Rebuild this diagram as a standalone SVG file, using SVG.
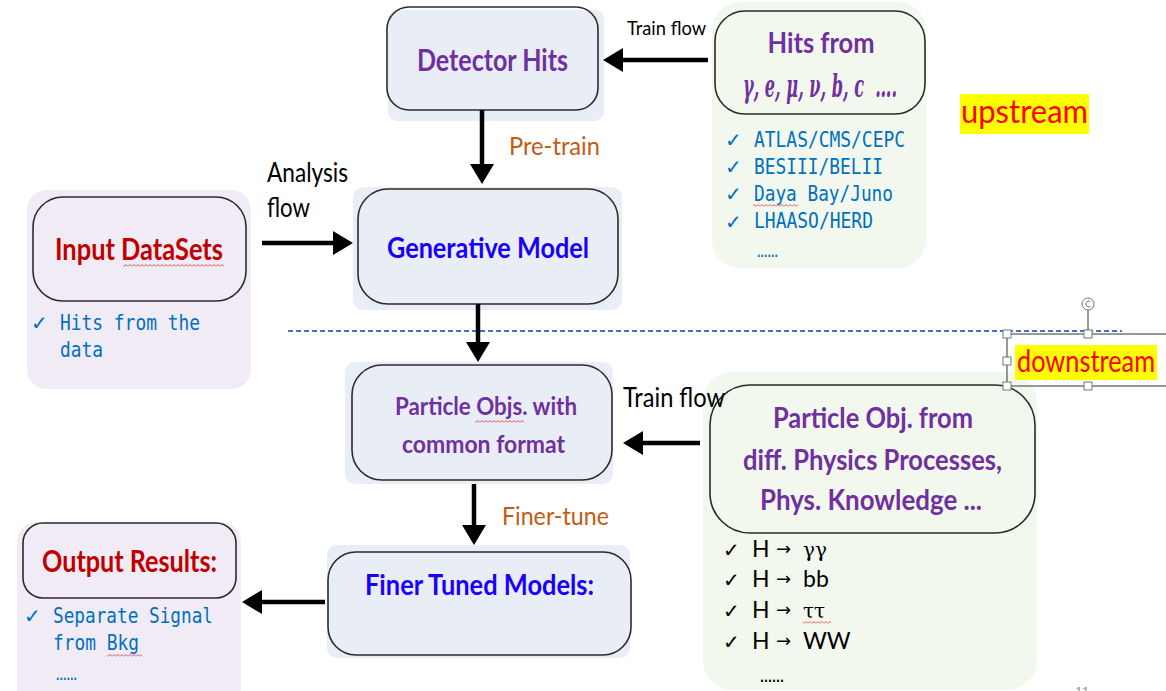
<svg xmlns="http://www.w3.org/2000/svg" width="1166" height="691" viewBox="0 0 1166 691">
<defs>
<style>
.bgb{fill:#e9edf5}
.bgg{fill:#f3f8ee}
.bgp{fill:#f0ebf4}
.frame{fill:none;stroke:#2b2b2b;stroke-width:1.6}
.h{font-family:Lato,"Open Sans","Liberation Sans",sans-serif;font-weight:700}
.r{font-family:Lato,"Open Sans","Liberation Sans",sans-serif;font-weight:400}
.purple{fill:#7030a0}
.dred{fill:#c00000}
.blue{fill:#1800ff}
.orange{fill:#c55a11}
.black{fill:#000}
.mono{font-family:"DejaVu Sans Mono","Liberation Mono",monospace;fill:#0070c0;font-size:22px}
.chk{font-family:"DejaVu Sans",sans-serif;font-size:20px;font-weight:700}
.conn{stroke:#000;stroke-width:4.5;fill:none}
.dash{stroke:#4472c4;stroke-width:1.8;stroke-dasharray:5 3;fill:none}
.sel{stroke:#777;stroke-width:1.5;fill:none}
.handle{fill:#fff;stroke:#777;stroke-width:1}
.hl{fill:#ffff00}
.redt{fill:#ff0000}
</style>
<marker id="ah" viewBox="0 0 20 24" markerWidth="20" markerHeight="24" refX="0" refY="12" orient="auto" markerUnits="userSpaceOnUse">
<path d="M0,0 L20,12 L0,24 z" fill="#000"/>
</marker>
<pattern id="wave" width="4" height="3" patternUnits="userSpaceOnUse">
<path d="M0,2.5 L2,0.5 L4,2.5" fill="none" stroke="#e23b3b" stroke-width="0.9"/>
</pattern>
</defs>
<rect width="1166" height="691" fill="#fff"/>

<line class="dash" x1="288" y1="331" x2="1122" y2="331"/>

<g id="detector-hits">
<rect class="bgb" x="388" y="10" width="216" height="111" rx="9"/>
<rect class="frame" x="387" y="7" width="211" height="103" rx="22"/>
<text class="h purple" x="492.5" y="71" font-size="31" text-anchor="middle" textLength="151" lengthAdjust="spacingAndGlyphs">Detector Hits</text>
</g>

<g id="hits-from">
<rect class="bgg" x="712" y="2" width="214" height="266" rx="28"/>
<rect class="frame" x="715" y="11" width="210" height="103" rx="30"/>
<text class="h purple" x="821" y="53" font-size="29" text-anchor="middle" textLength="107" lengthAdjust="spacingAndGlyphs">Hits from</text>
<text class="purple" x="743" y="97" font-size="31" font-family="'DejaVu Serif','Liberation Serif',serif" font-style="italic" font-weight="700" textLength="154" lengthAdjust="spacingAndGlyphs" style="white-space:pre">γ, e, μ, ν, b, c  ….</text>
<g fill="#0070c0">
<text class="chk" x="725" y="147">✓</text>
<text class="chk" x="725" y="174">✓</text>
<text class="chk" x="725" y="201">✓</text>
<text class="chk" x="725" y="229">✓</text>
</g>
<text class="mono" x="754" y="147" textLength="151" lengthAdjust="spacingAndGlyphs">ATLAS/CMS/CEPC</text>
<text class="mono" x="754" y="174" textLength="129" lengthAdjust="spacingAndGlyphs">BESIII/BELII</text>
<text class="mono" x="754" y="201" textLength="139" lengthAdjust="spacingAndGlyphs">Daya Bay/Juno</text>
<rect x="753" y="204" width="45" height="3" fill="url(#wave)"/>
<text class="mono" x="754" y="228" textLength="119" lengthAdjust="spacingAndGlyphs">LHAASO/HERD</text>
<text x="757" y="257" font-family="'DejaVu Sans',sans-serif" font-size="12" font-weight="700" fill="#0070c0" textLength="21" lengthAdjust="spacingAndGlyphs">......</text>
</g>

<g id="upstream">
<rect class="hl" x="960" y="94" width="129" height="40"/>
<text class="r redt" x="961" y="123" font-size="33" textLength="127" lengthAdjust="spacingAndGlyphs">upstream</text>
</g>

<g id="input-datasets">
<rect class="bgp" x="27" y="190" width="224" height="199" rx="20"/>
<rect class="frame" x="33" y="197" width="213" height="104" rx="30"/>
<text class="h dred" x="139" y="260" font-size="30" text-anchor="middle" textLength="168" lengthAdjust="spacingAndGlyphs">Input DataSets</text>
<rect x="123" y="264" width="101" height="3" fill="url(#wave)"/>
<text class="chk" x="31" y="330" fill="#0070c0">✓</text>
<text class="mono" x="60" y="330" textLength="140" lengthAdjust="spacingAndGlyphs">Hits from the</text>
<text class="mono" x="60" y="357" textLength="43" lengthAdjust="spacingAndGlyphs">data</text>
</g>

<g id="generative-model">
<rect class="bgb" x="353" y="187" width="269" height="123" rx="10"/>
<rect class="frame" x="358" y="189" width="260" height="115" rx="30"/>
<text class="h blue" x="488" y="258" font-size="29" text-anchor="middle" textLength="202" lengthAdjust="spacingAndGlyphs">Generative Model</text>
</g>

<g id="particle-objs">
<rect class="bgb" x="345" y="362" width="268" height="122" rx="10"/>
<rect class="frame" x="352" y="365" width="260" height="115" rx="30"/>
<text class="h purple" x="486" y="415" font-size="24" text-anchor="middle" textLength="182" lengthAdjust="spacingAndGlyphs">Particle Objs. with</text>
<rect x="475" y="420" width="49" height="3" fill="url(#wave)"/>
<text class="h purple" x="483.5" y="453" font-size="24" text-anchor="middle" textLength="163" lengthAdjust="spacingAndGlyphs">common format</text>
</g>

<g id="particle-obj-from">
<rect class="bgg" x="703" y="372" width="334" height="318" rx="30"/>
<rect class="frame" x="710" y="385" width="325" height="148" rx="40"/>
<text class="h purple" x="873" y="428" font-size="28" text-anchor="middle" textLength="200" lengthAdjust="spacingAndGlyphs">Particle Obj. from</text>
<text class="h purple" x="872.5" y="470" font-size="28" text-anchor="middle" textLength="259" lengthAdjust="spacingAndGlyphs">diff. Physics Processes,</text>
<text class="h purple" x="871" y="510" font-size="28" text-anchor="middle" textLength="222" lengthAdjust="spacingAndGlyphs">Phys. Knowledge ...</text>
<g class="r black" font-size="23">
<text class="chk" x="723" y="557">✓</text>
<text x="752" y="557">H</text><text x="776" y="555" font-family="'DejaVu Sans',sans-serif" font-size="18">→</text><text x="803" y="557" font-family="'DejaVu Serif',serif" font-size="20">γγ</text>
<text class="chk" x="723" y="587">✓</text>
<text x="752" y="587">H</text><text x="776" y="585" font-family="'DejaVu Sans',sans-serif" font-size="18">→</text><text x="803" y="587">bb</text>
<text class="chk" x="723" y="618">✓</text>
<text x="752" y="618">H</text><text x="776" y="616" font-family="'DejaVu Sans',sans-serif" font-size="18">→</text><text x="803" y="618" font-family="'DejaVu Serif',serif" font-size="20">ττ</text>
<text class="chk" x="723" y="649">✓</text>
<text x="752" y="649">H</text><text x="776" y="647" font-family="'DejaVu Sans',sans-serif" font-size="18">→</text><text x="803" y="649">WW</text>
</g>
<rect x="803" y="621" width="28" height="3" fill="url(#wave)"/>
<text x="760" y="682" font-family="'DejaVu Sans',sans-serif" font-size="12" font-weight="700" fill="#000" textLength="24" lengthAdjust="spacingAndGlyphs">......</text>
</g>

<g id="downstream">
<rect class="hl" x="1015" y="345" width="142" height="35"/>
<text class="r redt" x="1017" y="372" font-size="30" textLength="138" lengthAdjust="spacingAndGlyphs">downstream</text>
<path class="sel" d="M1007,334 H1166 M1007,386 H1166 M1007,334 V386 M1088,310 V334"/>
<circle cx="1088" cy="304" r="6" fill="#fff" stroke="#777" stroke-width="1"/>
<path d="M1090.5,301.5 A3,3 0 1 0 1090.5,306.5" fill="none" stroke="#777" stroke-width="1"/>
<rect class="handle" x="1003" y="330" width="8" height="8"/>
<rect class="handle" x="1003" y="357" width="8" height="8"/>
<rect class="handle" x="1003" y="382" width="8" height="8"/>
<rect class="handle" x="1084" y="330" width="8" height="8"/>
<rect class="handle" x="1084" y="382" width="8" height="8"/>
</g>

<g id="finer-tuned-models">
<rect class="bgb" x="327" y="545" width="303" height="113" rx="10"/>
<rect class="frame" x="328" y="552" width="303" height="103" rx="28"/>
<text class="h blue" x="479.5" y="595" font-size="28" text-anchor="middle" textLength="229" lengthAdjust="spacingAndGlyphs">Finer Tuned Models:</text>
</g>

<g id="output-results">
<rect class="bgp" x="17" y="522" width="224" height="190" rx="20"/>
<rect class="frame" x="23" y="523" width="213" height="75" rx="20"/>
<text class="h dred" x="129.5" y="572" font-size="30" text-anchor="middle" textLength="175" lengthAdjust="spacingAndGlyphs">Output Results:</text>
<text class="chk" x="24" y="623" fill="#0070c0">✓</text>
<text class="mono" x="53" y="623" textLength="160" lengthAdjust="spacingAndGlyphs">Separate Signal</text>
<text class="mono" x="53" y="650" textLength="86" lengthAdjust="spacingAndGlyphs">from Bkg</text>
<rect x="107" y="654" width="35" height="3" fill="url(#wave)"/>
<text x="56" y="680" font-family="'DejaVu Sans',sans-serif" font-size="12" font-weight="700" fill="#0070c0" textLength="21" lengthAdjust="spacingAndGlyphs">......</text>
</g>

<g id="connectors">
<line class="conn" x1="708" y1="60" x2="623" y2="60" marker-end="url(#ah)"/>
<line class="conn" x1="482" y1="110" x2="482" y2="164" marker-end="url(#ah)"/>
<line class="conn" x1="262" y1="243" x2="333" y2="243" marker-end="url(#ah)"/>
<line class="conn" x1="478" y1="304" x2="478" y2="342" marker-end="url(#ah)"/>
<line class="conn" x1="700" y1="443" x2="643" y2="443" marker-end="url(#ah)"/>
<line class="conn" x1="474" y1="484" x2="474" y2="525" marker-end="url(#ah)"/>
<line class="conn" x1="325" y1="602" x2="262" y2="602" marker-end="url(#ah)"/>
<text class="r black" x="627" y="35" font-size="19" textLength="79" lengthAdjust="spacingAndGlyphs">Train flow</text>
<text class="r orange" x="509" y="155" font-size="25" textLength="91" lengthAdjust="spacingAndGlyphs">Pre-train</text>
<text class="r black" x="267" y="182" font-size="26" textLength="81" lengthAdjust="spacingAndGlyphs">Analysis</text>
<text class="r black" x="267" y="217" font-size="26" textLength="43" lengthAdjust="spacingAndGlyphs">flow</text>
<text class="r black" x="623" y="407" font-size="26" textLength="102" lengthAdjust="spacingAndGlyphs">Train flow</text>
<text class="r orange" x="502" y="525" font-size="25" textLength="107" lengthAdjust="spacingAndGlyphs">Finer-tune</text>
</g>

<text x="1075" y="697" font-family="'Liberation Sans',sans-serif" font-size="14" fill="#999">11</text>
</svg>
